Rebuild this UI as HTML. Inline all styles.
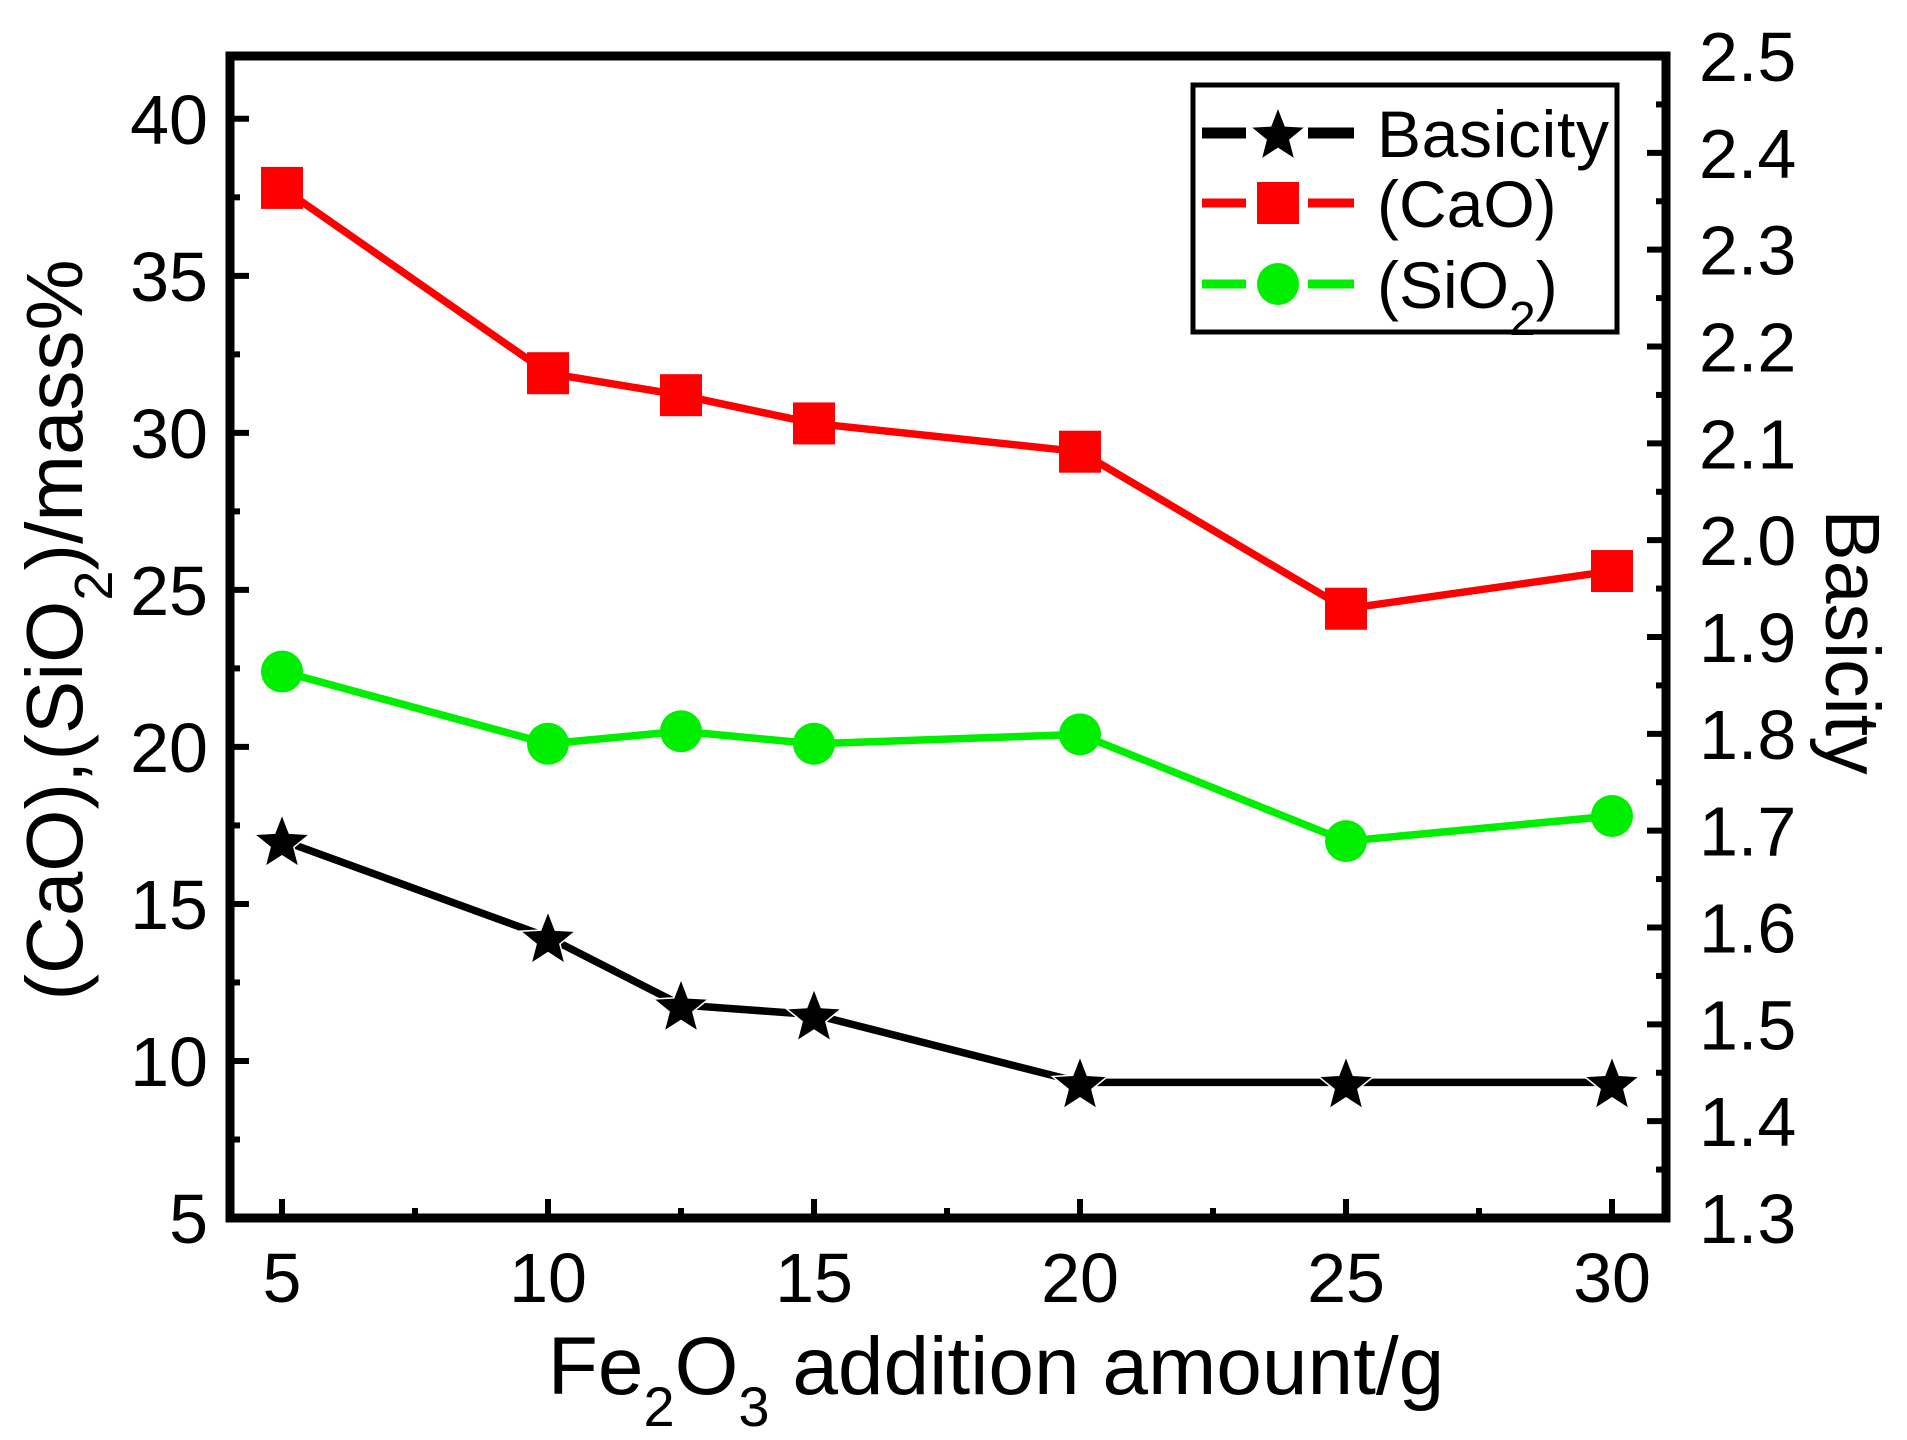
<!DOCTYPE html>
<html><head><meta charset="utf-8"><style>
html,body{margin:0;padding:0;background:#fff}
svg{display:block;font-family:"Liberation Sans",Arial,sans-serif}
</style></head><body>
<svg id="chart" width="1907" height="1440" viewBox="0 0 1907 1440">
<g id="plot"></g>
</svg>
<script>
const categories=[5,10,12.5,15,20,25,30];
const cao=[37.8,31.9,31.2,30.3,29.4,24.4,25.6];
const sio2=[22.4,20.1,20.5,20.1,20.4,17.0,17.8];
const basicity=[1.69,1.59,1.52,1.51,1.44,1.44,1.44];
const xTicks=[5,10,15,20,25,30];
const yTicks=[5,10,15,20,25,30,35,40];
const y2Ticks=[1.3,1.4,1.5,1.6,1.7,1.8,1.9,2.0,2.1,2.2,2.3,2.4,2.5];

const NS='http://www.w3.org/2000/svg';
const L=230,R=1666,T=56,B=1218;
const X=v=>282+(v-5)*53.2;
const Y=v=>B-(v-5)*(B-T)/37;
const Y2=v=>B-(v-1.3)*(B-T)/1.2;
const g=document.getElementById('plot');
function el(tag,attrs,parent){const e=document.createElementNS(NS,tag);for(const k in attrs)e.setAttribute(k,attrs[k]);(parent||g).appendChild(e);return e;}

for(let v=5;v<=30.01;v+=2.5){const major=xTicks.includes(v);
 const t=el('line',{x1:X(v),x2:X(v),y1:B,y2:B-(major?19:10),stroke:'#000','stroke-width':6});
 
 }
xTicks.forEach(v=>{const t=el('text',{x:X(v),y:1302,'font-size':70,'text-anchor':'middle'});t.textContent=v;
 
 });
for(let v=7.5;v<=42;v+=2.5){const major=yTicks.includes(v);
 const t=el('line',{x1:L,x2:L+(major?19:10),y1:Y(v),y2:Y(v),stroke:'#000','stroke-width':6});
 
 }
yTicks.forEach(v=>{const t=el('text',{x:208,y:Y(v)+25,'font-size':70,'text-anchor':'end'});t.textContent=v;
 
 });
for(let i=1;i<24;i++){const v=1.3+i*0.05;const major=i%2===0;
 const t=el('line',{x1:R,x2:R-(major?19:10),y1:Y2(v),y2:Y2(v),stroke:'#000','stroke-width':6});
 
 }
y2Ticks.forEach(v=>{const t=el('text',{x:1699,y:Y2(v)+25,'font-size':70});t.textContent=v.toFixed(1);
 
 });

function series(vals,yf,color,marker,name){
 const pts=categories.map((c,i)=>X(c)+','+yf(vals[i])).join(' ');
 const pl=el('polyline',{points:pts,fill:'none',stroke:color,'stroke-width':7.5});
 
 
 categories.forEach((c,i)=>{const m=marker(X(c),yf(vals[i]),color);
  
  });
}
const sq=(x,y,c,p)=>el('rect',{x:x-21,y:y-21,width:42,height:42,fill:c},p);
const ci=(x,y,c,p)=>el('circle',{cx:x,cy:y,r:21,fill:c},p);
function st(x,y,c,p){let d='';for(let k=0;k<10;k++){const r=k%2?12.5:29;const a=-Math.PI/2+k*Math.PI/5;d+=(k?'L':'M')+(x+r*Math.cos(a)).toFixed(1)+' '+(y+3+r*Math.sin(a)).toFixed(1);}return el('path',{d:d+'Z',fill:c,stroke:'#fff','stroke-width':1.5},p);}
series(cao,Y,'#ff0000',sq,'cao');
series(sio2,Y,'#00ee00',ci,'sio2');
series(basicity,Y2,'#000',st,'basicity');

const fr=el('rect',{x:L,y:T,width:R-L,height:B-T,fill:'none',stroke:'#000','stroke-width':9});



const lg=el('g',{});


el('rect',{x:1193,y:85,width:424,height:247,fill:'#fff',stroke:'#000','stroke-width':5},lg);
const entries=[['Basicity','#000',st,133],['(CaO)','#ff0000',sq,203],['(SiO<tspan baseline-shift="sub" font-size="48">2</tspan>)','#00ee00',ci,284]];
entries.forEach(e=>{const eg=el('g',{},lg);
 
 
 el('line',{x1:1202,x2:1246,y1:e[3],y2:e[3],stroke:e[1],'stroke-width':e[1]=='#000'?11:9},eg);
 el('line',{x1:1308,x2:1354,y1:e[3],y2:e[3],stroke:e[1],'stroke-width':e[1]=='#000'?11:9},eg);
 e[2](1278,e[3],e[1],eg);
 const t=el('text',{x:1377,y:e[3]+24,'font-size':66,textLength:e[0]=='Basicity'?232:undefined},eg);
 if(e[0]=='Basicity'){t.setAttribute('textLength',232);}else t.removeAttribute('textLength');
 t.innerHTML=e[0];});

const xt=el('text',{x:996,y:1394,'font-size':82,'text-anchor':'middle'});
xt.innerHTML='Fe<tspan baseline-shift="sub" font-size="56">2</tspan>O<tspan baseline-shift="sub" font-size="56">3</tspan> addition amount/g';


const yt=el('text',{x:0,y:0,'font-size':80,'text-anchor':'middle',transform:'translate(82,630) rotate(-90)'});
yt.innerHTML='(CaO),(SiO<tspan baseline-shift="sub" font-size="54">2</tspan>)/mass%';


const y2t=el('text',{x:0,y:0,'font-size':77,'text-anchor':'middle',transform:'translate(1826,642) rotate(90)'});
y2t.textContent='Basicity';


</script>
</body></html>
